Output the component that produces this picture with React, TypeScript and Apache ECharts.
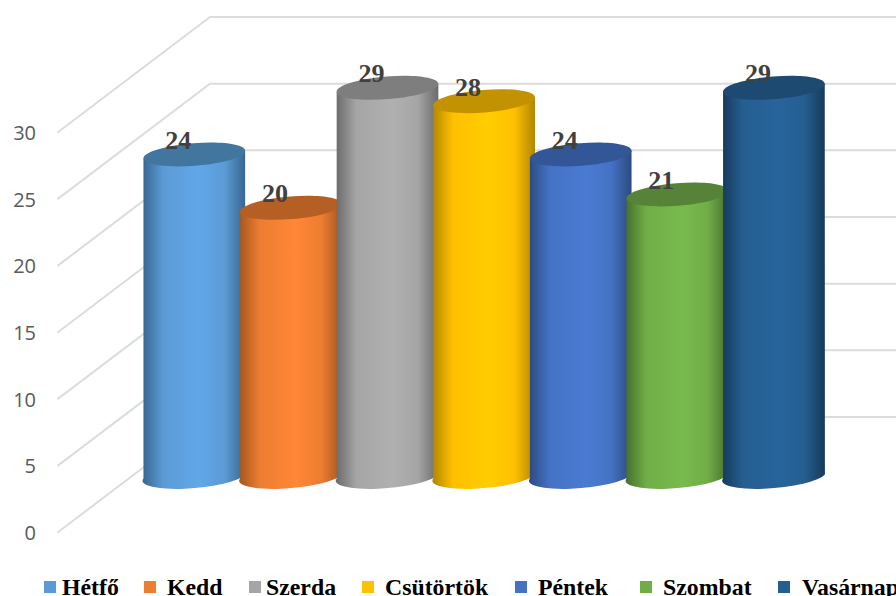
import React, { useEffect, useRef } from "react";
import * as echarts from "echarts";

const days = ["Hétfő", "Kedd", "Szerda", "Csütörtök", "Péntek", "Szombat", "Vasárnap"];
const values = [24, 20, 29, 28, 24, 21, 29];
const yTicks = [0, 5, 10, 15, 20, 25, 30];
const legendColors = ["#5b9bd5", "#ed7d31", "#a5a5a5", "#ffc000", "#4472c4", "#70ad47", "#255e91"];
const sideLight = ["#61a7e9", "#ff8736", "#b0b0b0", "#ffcd00", "#4a7bd3", "#79ba4d", "#27649b"];
const sideDark = ["#376690", "#a3561f", "#6a6a6a", "#b08600", "#2c4a80", "#476f2c", "#163a5a"];
const topColors = ["#43769f", "#b55f24", "#7e7e7e", "#c29200", "#335796", "#568337", "#1d4a70"];
const legendLefts = [44, 144, 249, 362, 515, 640, 778];
const legendGaps = [1, 6, 0, 6, 6, 6, 7];

const FRONT_X = 57.5;
const DEPTH_X = 152.5;
const DEPTH_Y = 115.5;
const BASE_DX = 75;
const BASE_DY = 58;
const RIGHT_X = 900;
const TILT = (4.6 * Math.PI) / 180;

function renderGridLine(_p: any, api: any) {
  const y = api.coord([0, api.value(1)])[1];
  return {
    type: "polyline",
    shape: {
      points: [
        [FRONT_X, y],
        [FRONT_X + DEPTH_X, y - DEPTH_Y],
        [RIGHT_X, y - DEPTH_Y],
      ],
    },
    style: { stroke: "#dcdcdc", lineWidth: 2, fill: "none" },
  };
}

function makeCylinder(idx: number) {
  return function renderCylinder(_p: any, api: any) {
    const v = api.value(1);
    const base = api.coord([idx, 0]);
    const top = api.coord([idx, v]);
    const band = api.size([1, 0])[0];
    const rx = (band * 102) / 96.6 / 2;
    const ry = 11.3;
    const cx = base[0] + BASE_DX;
    const by = base[1] - BASE_DY;
    const ty = top[1] - BASE_DY;
    const dx = rx * Math.cos(TILT);
    const dy = rx * Math.sin(TILT);
    const deg = (-TILT * 180) / Math.PI;
    const d =
      `M${cx - dx} ${ty + dy} L${cx - dx} ${by + dy} ` +
      `A${rx} ${ry} ${deg} 0 0 ${cx + dx} ${by - dy} ` +
      `L${cx + dx} ${ty - dy} Z`;
    return {
      type: "group",
      children: [
        {
          type: "path",
          shape: { pathData: d },
          style: {
            fill: {
              type: "linear",
              x: 0,
              y: 0,
              x2: 1,
              y2: 0,
              colorStops: [
                { offset: 0, color: sideDark[idx] },
                { offset: 0.2, color: legendColors[idx] },
                { offset: 0.55, color: sideLight[idx] },
                { offset: 0.8, color: legendColors[idx] },
                { offset: 1, color: sideDark[idx] },
              ],
            },
          },
        },
        {
          type: "ellipse",
          x: cx,
          y: ty,
          rotation: TILT,
          shape: { cx: 0, cy: 0, rx, ry },
          style: { fill: topColors[idx] },
        },
        {
          type: "text",
          x: cx - 16,
          y: ty - 14,
          z2: 50,
          style: {
            text: String(v),
            fill: "#404040",
            font: 'bold 26px "Liberation Serif", serif',
            align: "center",
            verticalAlign: "middle",
          },
        },
      ],
    };
  };
}

export default function App() {
  const ref = useRef<HTMLDivElement>(null);
  useEffect(() => {
    const chart = echarts.init(ref.current!, undefined, { renderer: "svg" });
    chart.setOption({
      animation: false,
      backgroundColor: "#ffffff",
      grid: { left: 71, top: 132.5, width: 676.2, height: 400 },
      xAxis: { type: "category", data: days, show: false },
      yAxis: {
        type: "value",
        min: 0,
        max: 30,
        interval: 5,
        splitLine: { show: false },
        axisLine: { show: false },
        axisTick: { show: false },
        axisLabel: {
          color: "#595959",
          fontFamily: '"Open Sans", sans-serif',
          fontSize: 20,
          margin: 35,
        },
      },
      legend: days.map((name, i) => ({
        data: [{ name, icon: "rect", itemStyle: { color: legendColors[i] } }],
        left: legendLefts[i],
        top: 575,
        padding: 0,
        itemWidth: 12,
        itemHeight: 12,
        selectedMode: false,
        textStyle: {
          color: "#000000",
          fontFamily: '"Liberation Serif", serif',
          fontWeight: "bold",
          fontSize: 23.8,
          padding: [0, 0, 0, legendGaps[i]],
        },
      })),
      series: [
        {
          type: "custom",
          name: "grid",
          silent: true,
          z: 1,
          renderItem: renderGridLine,
          encode: { x: 0, y: 1 },
          data: yTicks.map((t) => [0, t]),
        },
        ...days.map((name, i) => ({
          type: "custom",
          name,
          silent: true,
          z: 2,
          itemStyle: { color: legendColors[i] },
          renderItem: makeCylinder(i),
          encode: { x: 0, y: 1 },
          data: [[name, values[i]]],
        })),
      ],
    });
    return () => chart.dispose();
  }, []);
  return <div ref={ref} style={{ position: "fixed", left: 0, top: 0, width: 896, height: 596 }} />;
}
